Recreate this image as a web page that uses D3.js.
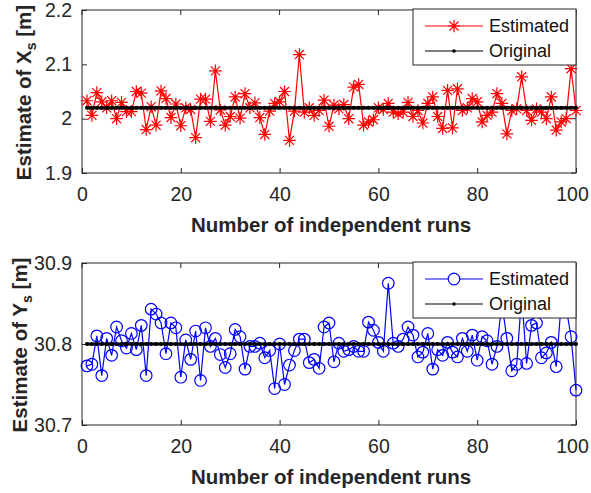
<!DOCTYPE html>
<html>
<head>
<meta charset="utf-8">
<script src="https://cdn.jsdelivr.net/npm/d3@7"></script>
<style>
  body { margin: 0; background: #fff; }
  svg { display: block; font-family: "Liberation Sans", Arial, sans-serif; }
</style>
</head>
<body>
<svg id="chart" width="591" height="493"></svg>
<script>
// run index 1..100
const runs = d3.range(1, 101);

const estX = [
  2.033, 2.006, 2.048, 2.031, 2.020, 2.033, 2.000, 2.030, 2.013, 2.013,
  2.050, 2.047, 1.980, 2.022, 1.988, 2.051, 2.037, 2.002, 2.027, 1.987,
  2.020, 2.017, 1.965, 2.036, 2.036, 1.995, 2.088, 2.016, 1.988, 2.004,
  2.040, 2.001, 2.046, 2.020, 2.029, 2.002, 1.971, 2.014, 2.028, 2.031,
  2.050, 1.960, 2.014, 2.118, 2.012, 2.020, 2.006, 2.015, 2.034, 1.986,
  2.025, 2.018, 2.026, 2.000, 2.058, 2.063, 1.988, 1.994, 1.998, 2.020,
  2.017, 2.028, 2.012, 2.009, 2.012, 2.030, 2.004, 2.015, 1.992, 2.028,
  2.040, 2.004, 1.982, 2.052, 1.983, 2.055, 2.015, 2.020, 2.037, 2.031,
  1.994, 2.006, 2.012, 2.046, 2.028, 1.972, 2.015, 2.018, 2.077, 2.015,
  1.997, 2.018, 2.012, 2.000, 2.040, 1.979, 1.994, 2.000, 2.092, 2.015
];
const origX = 2.02;

const estY = [
  30.773, 30.775, 30.810, 30.761, 30.807, 30.786, 30.821, 30.804, 30.795, 30.813,
  30.793, 30.823, 30.761, 30.843, 30.837, 30.826, 30.788, 30.826, 30.820, 30.759,
  30.805, 30.781, 30.816, 30.755, 30.820, 30.797, 30.807, 30.787, 30.771, 30.788,
  30.818, 30.809, 30.769, 30.797, 30.797, 30.801, 30.783, 30.792, 30.745, 30.800,
  30.750, 30.774, 30.792, 30.806, 30.806, 30.777, 30.781, 30.770, 30.821, 30.826,
  30.778, 30.801, 30.791, 30.793, 30.797, 30.791, 30.791, 30.827, 30.817, 30.802,
  30.791, 30.875, 30.801, 30.797, 30.806, 30.821, 30.811, 30.784, 30.790, 30.813,
  30.769, 30.793, 30.786, 30.802, 30.790, 30.784, 30.807, 30.791, 30.811, 30.780,
  30.809, 30.804, 30.775, 30.797, 30.850, 30.807, 30.767, 30.775, 30.860, 30.776,
  30.823, 30.826, 30.783, 30.789, 30.802, 30.772, 30.850, 30.845, 30.809, 30.743
];
const origY = 30.8;

const xTicks = [0, 20, 40, 60, 80, 100];
const yTicksX = [1.9, 2, 2.1, 2.2];
const yTicksY = [30.7, 30.8, 30.9];

const svg = d3.select("#chart");
const axisColor = "#262626";

function asterisk(g, r) {
  const d = r * 0.72;
  g.append("path")
    .attr("d", `M${-r},0H${r}M0,${-r}V${r}M${-d},${-d}L${d},${d}M${-d},${d}L${d},${-d}`);
}

function panel(opts) {
  const { top, bottom, left, right } = opts;
  const x = d3.scaleLinear([0, 100], [left, right]);
  const y = d3.scaleLinear(opts.yDomain, [bottom, top]);
  const g = svg.append("g");

  // box
  g.append("rect")
    .attr("x", left).attr("y", top)
    .attr("width", right - left).attr("height", bottom - top)
    .attr("fill", "none").attr("stroke", axisColor).attr("stroke-width", 1);

  // axes with inward ticks
  const ax = g.append("g")
    .attr("transform", `translate(0,${bottom})`)
    .call(d3.axisBottom(x).tickValues(xTicks).tickSizeInner(-5).tickSizeOuter(0).tickPadding(14));
  const ay = g.append("g")
    .attr("transform", `translate(${left},0)`)
    .call(d3.axisLeft(y).tickValues(opts.yTicks).tickFormat(d3.format("")).tickSizeInner(-5).tickSizeOuter(0).tickPadding(10));
  [ax, ay].forEach((a) => {
    a.select(".domain").remove();
    a.selectAll("line").attr("stroke", axisColor);
    a.selectAll("text").attr("fill", axisColor)
      .style("font-size", "19.5px").style("font-family", "Liberation Sans, Arial, sans-serif");
  });
  // keep the last x tick label inside the page
  ax.selectAll(".tick text").filter((d) => d === 100).attr("dx", -4);

  // top/right ticks
  g.selectAll(".tt").data(xTicks).join("line")
    .attr("x1", (d) => x(d)).attr("x2", (d) => x(d))
    .attr("y1", top).attr("y2", top + 5).attr("stroke", axisColor);
  g.selectAll(".rt").data(opts.yTicks).join("line")
    .attr("x1", right).attr("x2", right - 5)
    .attr("y1", (d) => y(d)).attr("y2", (d) => y(d)).attr("stroke", axisColor);

  // estimated series
  const line = d3.line().x((d, i) => x(runs[i])).y((d) => y(d));
  g.append("path").datum(opts.est)
    .attr("d", line).attr("fill", "none")
    .attr("stroke", opts.color).attr("stroke-width", 1.2);

  const marks = g.append("g").attr("stroke", opts.color).attr("fill", "none");
  opts.est.forEach((v, i) => {
    const m = marks.append("g").attr("transform", `translate(${x(runs[i])},${y(v)})`);
    if (opts.marker === "star") {
      m.attr("stroke-width", 1.2);
      asterisk(m, 6.3);
    } else {
      m.append("circle").attr("r", 5.8).attr("stroke-width", 1.2);
    }
  });

  // original series (constant)
  g.append("line")
    .attr("x1", x(runs[0])).attr("x2", x(runs[runs.length - 1]))
    .attr("y1", y(opts.orig)).attr("y2", y(opts.orig))
    .attr("stroke", "#000").attr("stroke-width", 3.2);
  g.selectAll(".od").data(runs).join("circle")
    .attr("cx", (d) => x(d)).attr("cy", y(opts.orig)).attr("r", 2).attr("fill", "#000");

  // x label
  g.append("text")
    .attr("x", (left + right) / 2 + 2).attr("y", bottom + 59)
    .attr("text-anchor", "middle").attr("font-weight", "bold")
    .attr("font-size", 20.5).attr("fill", axisColor)
    .text("Number of independent runs");

  // y label
  const yl = g.append("text")
    .attr("transform", `translate(${opts.ylx},${(top + bottom) / 2 + 1}) rotate(-90)`)
    .attr("text-anchor", "middle").attr("font-weight", "bold")
    .attr("font-size", 20.5).attr("fill", axisColor);
  yl.append("tspan").text(`Estimate of ${opts.sym}`);
  yl.append("tspan").attr("font-size", 14).attr("dy", 5).text("s");
  yl.append("tspan").attr("dy", -5).text(" [m]");

  // legend
  const lx = 413, lw = 163, lh = 56, ly = top - 1;
  const lg = g.append("g");
  lg.append("rect").attr("x", lx).attr("y", ly).attr("width", lw).attr("height", lh)
    .attr("fill", "#fff").attr("stroke", axisColor).attr("stroke-width", 1);
  const r1 = ly + 17, r2 = ly + 42;
  lg.append("line").attr("x1", 425).attr("x2", 483).attr("y1", r1).attr("y2", r1)
    .attr("stroke", opts.color).attr("stroke-width", 1.2);
  const lm = lg.append("g").attr("transform", `translate(454,${r1})`)
    .attr("stroke", opts.color).attr("fill", "#fff").attr("stroke-width", 1.2);
  if (opts.marker === "star") asterisk(lm, 6.3);
  else lm.append("circle").attr("r", 5.8);
  lg.append("line").attr("x1", 425).attr("x2", 483).attr("y1", r2).attr("y2", r2)
    .attr("stroke", "#000").attr("stroke-width", 1.2);
  lg.append("circle").attr("cx", 454).attr("cy", r2).attr("r", 1.8).attr("fill", "#000");
  lg.append("text").attr("x", 489).attr("y", r1).attr("dy", "0.35em")
    .attr("font-size", 18).attr("fill", "#111").text("Estimated");
  lg.append("text").attr("x", 489).attr("y", r2).attr("dy", "0.35em")
    .attr("font-size", 18).attr("fill", "#111").text("Original");
}

panel({
  top: 10, bottom: 173, left: 82, right: 576, ylx: 31,
  yDomain: [1.9, 2.2], yTicks: yTicksX,
  est: estX, orig: origX, color: "#ff0000", marker: "star", sym: "X"
});
panel({
  top: 263, bottom: 425, left: 82, right: 576, ylx: 27,
  yDomain: [30.7, 30.9], yTicks: yTicksY,
  est: estY, orig: origY, color: "#0000ff", marker: "circle", sym: "Y"
});
</script>
</body>
</html>
